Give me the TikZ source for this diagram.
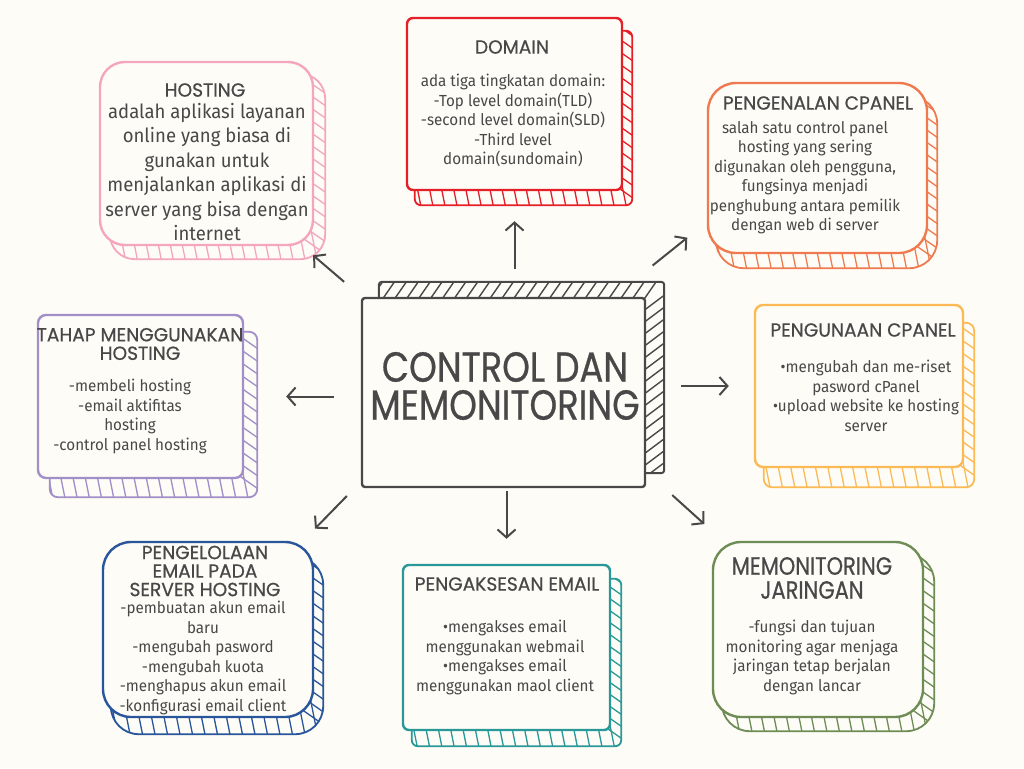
\documentclass[tikz,border=0pt]{standalone}
\usepackage{fontspec}
\setmainfont[FakeStretch=0.95]{Fira Sans}
\newfontfamily\headfont[FakeStretch=0.98,FakeBold=0.6]{Poppins}
\newfontfamily\bigheadfont[FakeStretch=0.84,FakeBold=0.6]{Poppins}
\usetikzlibrary{arrows.meta,calc,backgrounds}
\definecolor{PaperBg}{RGB}{253,252,246}
\definecolor{InkGray}{RGB}{72,72,72}
\definecolor{HostPink}{RGB}{244,166,190}
\definecolor{DomRed}{RGB}{230,30,40}
\definecolor{PanelOrange}{RGB}{240,122,80}
\definecolor{StepPurple}{RGB}{162,142,200}
\definecolor{UseYellow}{RGB}{252,186,86}
\definecolor{MailBlue}{RGB}{40,85,155}
\definecolor{MailTeal}{RGB}{40,152,152}
\definecolor{NetGreen}{RGB}{110,140,85}

% back plate + hatching of a box: name, dx, dy, radius, colour, #bottom, #right
\newcommand{\hatchbox}[7]{%
  \begin{scope}[on background layer]
    \begin{scope}
      \clip[rounded corners=#4pt] ([shift={(#2,#3)}]#1.north west) rectangle ([shift={(#2,#3)}]#1.south east);
      \foreach \i in {1,...,#6}
        \draw[#5,line width=1.3pt] ($(#1.south west)!{\i/#6}!(#1.south east)$) ++({-0.2*(#4+2)},{-(#4+2)}) -- ++({0.2*(#4+#3+8)},{#4+#3+8});
      \foreach \i in {1,...,#7}
        \draw[#5,line width=1.3pt] ($(#1.north east)!{\i/#7}!(#1.south east)$) ++({-(#4+2)},{-0.7*(#4+2)}) -- ++({#4+#2+8},{0.7*(#4+#2+8)});
    \end{scope}
    \draw[#5,line width=1.8pt,rounded corners=#4pt] ([shift={(#2,#3)}]#1.north west) rectangle ([shift={(#2,#3)}]#1.south east);
  \end{scope}%
}

\begin{document}
\begin{tikzpicture}[x=1pt,y=-1pt,
  box/.style={draw=#1,line width=2.4pt,fill=PaperBg,inner sep=0pt},
  head/.style={font=\headfont\fontsize{19}{18.5}\selectfont,text=InkGray,align=center,inner sep=0pt},
  body/.style={font=\fontsize{16}{19.5}\selectfont,text=InkGray,align=center,inner sep=0pt,anchor=north},
  arr/.style={-{Straight Barb[length=8pt,width=18pt]},line width=2pt,draw=InkGray}
]
  \useasboundingbox (0,0) rectangle (1024,768);
  \begin{scope}[on background layer]
    \fill[PaperBg] (0,0) rectangle (1024,768);
  \end{scope}

  % centre
  \node[box=InkGray,rounded corners=3pt,minimum width=283pt,minimum height=189pt] (ctr) at (503.5,392.5) {};
  \node[head,font=\bigheadfont\fontsize{42}{38}\selectfont] (ctrtxt) at (505,386) {CONTROL DAN\\MEMONITORING};
  \begin{scope}[on background layer]
    \begin{scope}
      \clip[rounded corners=3pt] ([shift={(18,-15)}]ctr.north west) rectangle ([shift={(18,-15)}]ctr.south east);
      \foreach \i in {1,...,24}
        \draw[InkGray,line width=1.4pt] ($(ctr.north west)!{\i/24}!(ctr.north east)$) ++(-6,8) -- ++(18,-26);
      \foreach \i in {1,...,16}
        \draw[InkGray,line width=1.4pt] ($(ctr.north east)!{\i/16}!(ctr.south east)$) ++(-8,6) -- ++(32,-24);
    \end{scope}
    \draw[InkGray,line width=2pt,rounded corners=3pt] ([shift={(18,-15)}]ctr.north west) rectangle ([shift={(18,-15)}]ctr.south east);
  \end{scope}

  % hosting
  \node[box=HostPink,rounded corners=25pt,minimum width=213pt,minimum height=183pt] (hosting) at (206.5,153.5) {};
  \hatchbox{hosting}{11}{13}{25}{HostPink}{18}{15}
  \node[head] (hostingh) at (205,90) {HOSTING};
  \node[body,font=\fontsize{19.5}{24.5}\selectfont] (hostingb) at (207,103) {adalah aplikasi layanan\\online yang biasa di\\gunakan untuk\\menjalankan aplikasi di\\server yang bisa dengan\\internet};

  % domain
  \node[box=DomRed,rounded corners=6pt,minimum width=215pt,minimum height=172pt] (domain) at (514.5,104) {};
  \hatchbox{domain}{9}{14}{6}{DomRed}{18}{14}
  \node[head] (domainh) at (512,47) {DOMAIN};
  \node[body] (domainb) at (513,74) {ada tiga tingkatan domain:\\-Top level domain(TLD)\\-second level domain(SLD)\\-Third level\\domain(sundomain)};

  % pengenalan cpanel
  \node[box=PanelOrange,rounded corners=28pt,minimum width=219pt,minimum height=170pt] (pengenalan) at (817.5,168) {};
  \hatchbox{pengenalan}{9}{14}{28}{PanelOrange}{18}{14}
  \node[head] (pengenalanh) at (818,103) {PENGENALAN CPANEL};
  \node[body] (pengenalanb) at (805,121) {salah satu control panel\\hosting yang sering\\digunakan oleh pengguna,\\fungsinya menjadi\\penghubung antara pemilik\\dengan web di server};

  % tahap menggunakan hosting
  \node[box=StepPurple,rounded corners=8pt,minimum width=205pt,minimum height=163pt] (tahap) at (140.5,396.5) {};
  \hatchbox{tahap}{13}{18}{8}{StepPurple}{17}{13}
  \node[head] (tahaph) at (140,344) {TAHAP MENGGUNAKAN\\HOSTING};
  \node[body] (tahapb) at (130,379) {-membeli hosting\\-email aktifitas\\hosting\\-control panel hosting};

  % pengunaan cpanel
  \node[box=UseYellow,rounded corners=8pt,minimum width=208pt,minimum height=162pt] (pengunaan) at (859,386) {};
  \hatchbox{pengunaan}{10}{19}{8}{UseYellow}{17}{13}
  \node[head] (pengunaanh) at (863,330) {PENGUNAAN CPANEL};
  \node[body] (pengunaanb) at (866,360) {•mengubah dan me-riset\\pasword cPanel\\•upload website ke hosting\\server};

  % pengelolaan email
  \node[box=MailBlue,rounded corners=28pt,minimum width=210pt,minimum height=175pt] (pengelolaan) at (208,629.5) {};
  \hatchbox{pengelolaan}{9}{16}{28}{MailBlue}{17}{14}
  \node[head] (pengelolaanh) at (205,571) {PENGELOLAAN\\EMAIL PADA\\SERVER HOSTING};
  \node[body] (pengelolaanb) at (203,601) {-pembuatan akun email\\baru\\-mengubah pasword\\-mengubah kuota\\-menghapus akun email\\-konfigurasi email client};

  % pengaksesan email
  \node[box=MailTeal,rounded corners=6pt,minimum width=207pt,minimum height=165pt] (pengaksesan) at (506.5,647.5) {};
  \hatchbox{pengaksesan}{10}{15}{6}{MailTeal}{17}{14}
  \node[head] (pengaksesanh) at (507,584) {PENGAKSESAN EMAIL};
  \node[body] (pengaksesanb) at (505,620) {•mengakses email\\menggunakan webmail\\•mengakses email\\menggunakan maol client};

  % memonitoring jaringan
  \node[box=NetGreen,rounded corners=28pt,minimum width=210pt,minimum height=175pt] (jaringan) at (818,629.5) {};
  \hatchbox{jaringan}{10}{13}{28}{NetGreen}{17}{14}
  \node[head,font=\bigheadfont\fontsize{25}{24}\selectfont] (jaringanh) at (812,578) {MEMONITORING\\JARINGAN};
  \node[body] (jaringanb) at (812,620) {-fungsi dan tujuan\\monitoring agar menjaga\\jaringan tetap berjalan\\dengan lancar};

  % arrows
  \draw[arr,shorten <=28pt,shorten >=30pt] (ctr.north -| domain.south) -- (domain.south);
  \draw[arr,shorten <=23pt,shorten >=14pt] (ctr.146) -- (hosting.316);
  \draw[arr,shorten <=50pt,shorten >=25pt] (ctr.41) -- (pengenalan.206);
  \draw[arr,shorten <=27pt,shorten >=42pt] (tahap.east -| ctr.west) -- (tahap.east);
  \draw[arr,shorten <=35pt,shorten >=25pt] (pengunaan.west -| ctr.east) -- (pengunaan.west);
  \draw[arr,shorten <=20pt,shorten >=17pt] (ctr.212) -- (pengelolaan.43);
  \draw[arr,shorten <=3pt,shorten >=25pt] (ctr.south -| pengaksesan.north) -- (pengaksesan.north);
  \draw[arr,shorten <=35pt,shorten >=25pt] (ctr.331) -- (jaringan.137);
\end{tikzpicture}
\end{document}
